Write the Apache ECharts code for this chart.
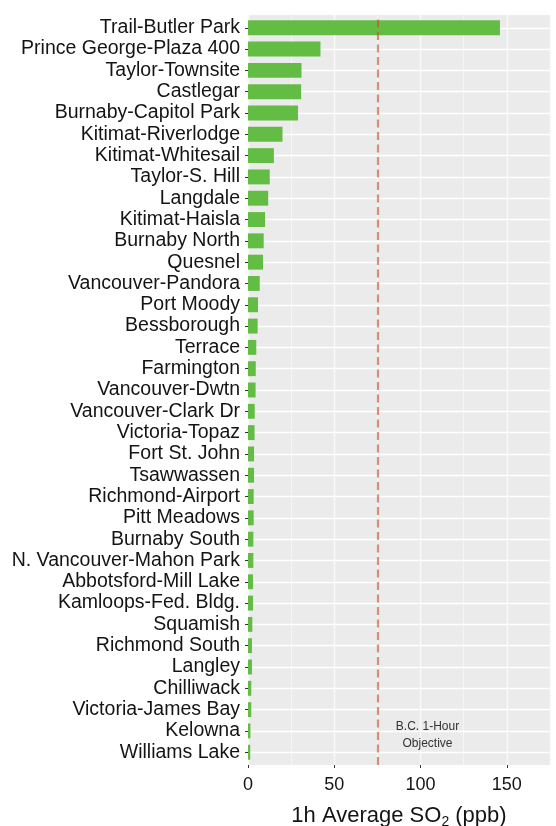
<!DOCTYPE html>
<html><head><meta charset="utf-8">
<script src="https://cdn.jsdelivr.net/npm/echarts@6/dist/echarts.min.js"></script>
<style>html,body{margin:0;padding:0;background:#fff}#c{width:556px;height:826px}</style>
</head><body><div id="c"></div>
<script>
const stations = ["Trail-Butler Park","Prince George-Plaza 400","Taylor-Townsite","Castlegar","Burnaby-Capitol Park","Kitimat-Riverlodge","Kitimat-Whitesail","Taylor-S. Hill","Langdale","Kitimat-Haisla","Burnaby North","Quesnel","Vancouver-Pandora","Port Moody","Bessborough","Terrace","Farmington","Vancouver-Dwtn","Vancouver-Clark Dr","Victoria-Topaz","Fort St. John","Tsawwassen","Richmond-Airport","Pitt Meadows","Burnaby South","N. Vancouver-Mahon Park","Abbotsford-Mill Lake","Kamloops-Fed. Bldg.","Squamish","Richmond South","Langley","Chilliwack","Victoria-James Bay","Kelowna","Williams Lake"];
const so2Values = [146,42,31,30.8,29,20,15,12.6,11.7,9.9,9.1,8.7,6.8,5.8,5.6,4.8,4.5,4.4,3.9,3.8,3.5,3.5,3.3,3.3,3.1,3.1,2.9,2.9,2.5,2.3,2.3,1.9,1.9,1.4,1.3];
const xTicks = [0,50,100,150];
const xMax = 175;
const objective = 75;
const objectiveLabel = "B.C. 1-Hour\nObjective";
const objectiveLabelAt = [104, "Kelowna"];

const font = "'Liberation Sans', Arial, Helvetica, sans-serif";
const textColor = '#141414';
const chart = echarts.init(document.getElementById('c'), null, {renderer:'canvas'});
chart.setOption({
  animation: false,
  backgroundColor: '#ffffff',
  grid: [
    {left: 248, right: 6, top: 15, bottom: 61, show: true, backgroundColor: '#ebebeb', borderWidth: 0,
     containLabel: false, outerBoundsMode: 'none'},
    {left: 248, right: 6, top: 17.1, bottom: 63.1, show: false, containLabel: false, outerBoundsMode: 'none'}
  ],
  xAxis: [{
    gridIndex: 0, type: 'value', min: 0, max: xMax, interval: 50, position: 'bottom',
    axisLine: {show: false},
    axisTick: {show: true, length: 3, lineStyle: {color: '#333'}},
    axisLabel: {show: true, fontFamily: font, fontSize: 18, color: textColor, margin: 11, showMaxLabel: false,
      formatter: v => xTicks.includes(v) ? String(v) : ''},
    splitLine: {show: true, lineStyle: {color: '#ffffff', width: 1.4}},
    name: '1h Average SO{sub|2} (ppb)', nameLocation: 'middle', nameGap: 38, nameMoveOverlap: false,
    nameTextStyle: {fontFamily: font, fontSize: 22, color: textColor, lineHeight: 26,
      rich: {sub: {fontFamily: font, fontSize: 14, lineHeight: 26, verticalAlign: 'bottom', color: textColor, padding:[6,0,0,0]}}}
  },{
    gridIndex: 0, type: 'value', min: 0, max: xMax, interval: 25, position: 'top',
    axisLine: {show: false}, axisTick: {show: false}, axisLabel: {show: false},
    splitLine: {show: true, lineStyle: {color: '#f7f7f7', width: 0.8}}
  },{
    gridIndex: 1, type: 'value', min: 0, max: xMax, interval: 50, position: 'bottom',
    axisLine: {show: false}, axisTick: {show: false}, axisLabel: {show: false}, splitLine: {show: false}
  }],
  yAxis: [{
    gridIndex: 0, type: 'value', min: 0, max: 1, show: false, splitLine: {show: false}
  },{
    gridIndex: 1, type: 'category', data: stations, inverse: true,
    axisLine: {show: false},
    axisTick: {show: true, length: 3, alignWithLabel: true, lineStyle: {color: '#333'}},
    axisLabel: {fontFamily: font, fontSize: 19.5, color: textColor, margin: 8, interval: 0},
    splitLine: {show: false}
  }],
  series: [{
    type: 'bar', data: so2Values, xAxisIndex: 2, yAxisIndex: 1, barWidth: '70%', z: 3,
    itemStyle: {color: '#63bd45'}, silent: true
  },{
    type: 'line', data: [], xAxisIndex: 2, yAxisIndex: 1, silent: true, z: 1,
    markLine: {
      z: 1, silent: true, animation: false, symbol: ['none','none'],
      label: {show: false},
      lineStyle: {color: '#ffffff', width: 1.4, type: 'solid'},
      emphasis: {disabled: true},
      data: stations.map(s => ({yAxis: s}))
    },
    markPoint: {
      z: 6, silent: true, animation: false, symbol: 'circle', symbolSize: 0,
      label: {show: true, position: 'inside', offset: [0, 4], formatter: objectiveLabel, fontFamily: font,
        fontSize: 12, lineHeight: 17, color: '#333', align: 'center'},
      data: [{coord: objectiveLabelAt}]
    }
  },{
    type: 'line', data: [], xAxisIndex: 0, yAxisIndex: 0, silent: true, z: 5,
    markLine: {
      z: 6, silent: true, animation: false, symbol: ['none','none'],
      label: {show: false},
      lineStyle: {color: 'rgba(200,80,50,0.62)', width: 2.2, type: [8,4.5]},
      emphasis: {disabled: true},
      data: [{xAxis: objective}]
    }
  }]
});
</script></body></html>
